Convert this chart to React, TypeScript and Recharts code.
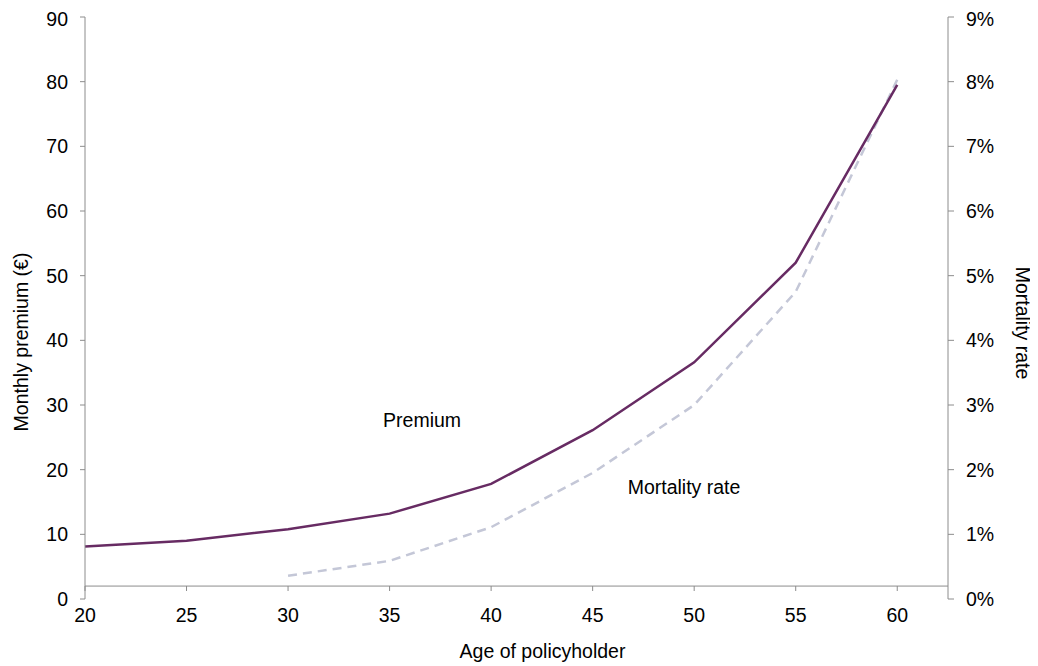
import { Label, Line, LineChart, ReferenceDot, ReferenceLine, XAxis, YAxis } from "recharts";

const ages = [20, 25, 30, 35, 40, 45, 50, 55, 60];
const premium = [8.1, 9.0, 10.8, 13.2, 17.8, 26.1, 36.6, 52.0, 79.5];
const mortality = [null, null, 0.0036, 0.0059, 0.0111, 0.0195, 0.03, 0.0475, 0.0803];
const leftTicks = [0, 10, 20, 30, 40, 50, 60, 70, 80, 90];
const rightTicks = [0, 0.01, 0.02, 0.03, 0.04, 0.05, 0.06, 0.07, 0.08, 0.09];

const data = ages.map((age, i) => ({ age, premium: premium[i], mortality: mortality[i] }));

const FONT = "'Liberation Sans', Arial, sans-serif";
const FS = 19.5;
const AXIS = "#8c8c8c";
const pct = (v: number) => `${Math.round(v * 100)}%`;

// the horizontal axis crosses at premium = 2, so tick marks sit above the plot bottom
const AgeTick = ({ x, y, payload }: any) => (
  <g>
    <line x1={x} x2={x} y1={y - 13} y2={y - 8} stroke={AXIS} strokeWidth={1} />
    <text x={x} y={y + 23} textAnchor="middle" fontSize={FS} fill="#000" fontFamily={FONT}>
      {payload.value}
    </text>
  </g>
);

export default function App() {
  return (
    <LineChart
      width={1030}
      height={658}
      data={data}
      margin={{ top: 9, right: 8, left: 0, bottom: 0 }}
      style={{ fontFamily: FONT }}
    >
      <XAxis
        dataKey="age"
        type="number"
        domain={[20, 62.5]}
        ticks={ages}
        height={67}
        axisLine={false}
        tickLine={false}
        tickSize={0}
        tickMargin={0}
        tick={<AgeTick />}
      >
        <Label
          content={({ viewBox }: any) => (
            <text
              x={viewBox.x + viewBox.width / 2 + 26}
              y={viewBox.y + 59}
              textAnchor="middle"
              fontSize={FS}
              fill="#000"
              fontFamily={FONT}
            >
              Age of policyholder
            </text>
          )}
        />
      </XAxis>
      <YAxis
        yAxisId="left"
        domain={[0, 90]}
        ticks={leftTicks}
        width={77}
        axisLine={{ stroke: AXIS }}
        tickLine={{ stroke: AXIS }}
        tickSize={5}
        tickMargin={12}
        tick={{ fill: "#000", fontSize: FS }}
      >
        <Label
          content={({ viewBox }: any) => {
            const cx = viewBox.x + 13;
            const cy = viewBox.y + viewBox.height / 2 + 34;
            return (
              <text
                x={cx}
                y={cy}
                transform={`rotate(-90, ${cx}, ${cy})`}
                textAnchor="middle"
                dominantBaseline="central"
                fontSize={FS}
                fill="#000"
                fontFamily={FONT}
              >
                Monthly premium (€)
              </text>
            );
          }}
        />
      </YAxis>
      <YAxis
        yAxisId="right"
        orientation="right"
        domain={[0, 0.09]}
        ticks={rightTicks}
        width={82}
        axisLine={{ stroke: AXIS }}
        tickLine={{ stroke: AXIS }}
        tickSize={6}
        tickMargin={12}
        tickFormatter={pct}
        tick={{ fill: "#000", fontSize: FS }}
      >
        <Label
          content={({ viewBox }: any) => {
            const cx = viewBox.x + 75;
            const cy = viewBox.y + viewBox.height / 2 + 15;
            return (
              <text
                x={cx}
                y={cy}
                transform={`rotate(90, ${cx}, ${cy})`}
                textAnchor="middle"
                dominantBaseline="central"
                fontSize={FS}
                fill="#000"
                fontFamily={FONT}
              >
                Mortality rate
              </text>
            );
          }}
        />
      </YAxis>
      <ReferenceLine yAxisId="left" y={2} stroke={AXIS} strokeWidth={1} />
      <Line
        yAxisId="right"
        dataKey="mortality"
        stroke="#c4c7d7"
        strokeWidth={2.5}
        strokeDasharray="9 6"
        dot={false}
        isAnimationActive={false}
      />
      <Line
        yAxisId="left"
        dataKey="premium"
        stroke="#672b63"
        strokeWidth={2.5}
        dot={false}
        isAnimationActive={false}
      />
      <ReferenceDot
        yAxisId="left"
        x={36.6}
        y={27.7}
        r={0}
        fill="none"
        stroke="none"
        ifOverflow="visible"
        label={{ value: "Premium", position: "center", fontSize: FS, fill: "#000" }}
      />
      <ReferenceDot
        yAxisId="left"
        x={49.5}
        y={17.3}
        r={0}
        fill="none"
        stroke="none"
        ifOverflow="visible"
        label={{ value: "Mortality rate", position: "center", fontSize: FS, fill: "#000" }}
      />
    </LineChart>
  );
}
